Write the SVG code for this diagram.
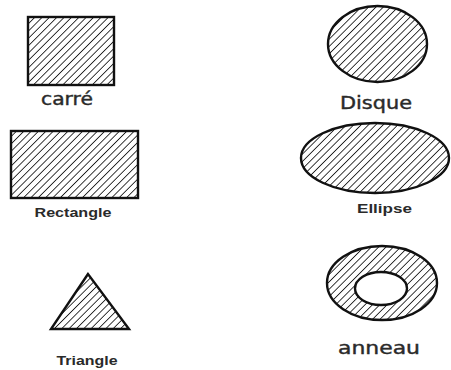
<svg xmlns="http://www.w3.org/2000/svg" width="451" height="370" viewBox="0 0 451 370">
<defs>
<pattern id="hatch" width="5.2" height="5.2" patternUnits="userSpaceOnUse" patternTransform="rotate(45)">
<rect width="5.2" height="5.2" fill="#fff"/>
<line x1="0" y1="0" x2="0" y2="5.2" stroke="#1a1a1a" stroke-width="1.7"/>
</pattern>
</defs>
<style>
.shape{fill:url(#hatch);stroke:#111;stroke-width:2.4}
.lbl1{font-family:"DejaVu Sans",sans-serif;font-size:17px;fill:#2a2a2a;stroke:#2a2a2a;stroke-width:0.4;text-anchor:middle}
.lbl2{font-family:"Liberation Sans",Arial,sans-serif;font-weight:bold;font-size:13px;fill:#2a2a2a;text-anchor:middle}
</style>
<rect width="451" height="370" fill="#fff"/>
<g id="carre">
<rect class="shape" x="28" y="17" width="86" height="68"/>
<text class="lbl1" x="67" y="105" font-size="18" textLength="52" lengthAdjust="spacingAndGlyphs">carré</text>
</g>
<g id="rectangle">
<rect class="shape" x="11" y="131" width="127" height="67"/>
<text class="lbl2" x="73" y="217" textLength="77" lengthAdjust="spacingAndGlyphs">Rectangle</text>
</g>
<g id="triangle">
<polygon class="shape" points="88,274 51,329 129,329"/>
<text class="lbl2" x="87" y="365" textLength="61" lengthAdjust="spacingAndGlyphs">Triangle</text>
</g>
<g id="disque">
<ellipse class="shape" cx="377.5" cy="44" rx="49.5" ry="38"/>
<text class="lbl1" x="376" y="109" font-size="19" textLength="72" lengthAdjust="spacingAndGlyphs">Disque</text>
</g>
<g id="ellipse">
<ellipse class="shape" cx="375" cy="158" rx="74" ry="35"/>
<text class="lbl2" x="384.5" y="213" font-size="12" textLength="55" lengthAdjust="spacingAndGlyphs">Ellipse</text>
</g>
<g id="anneau">
<path class="shape" fill-rule="evenodd" d="M327,283 a55,37 0 1,0 110,0 a55,37 0 1,0 -110,0 Z M355,288.5 a26,16.5 0 1,0 52,0 a26,16.5 0 1,0 -52,0 Z"/>
<text class="lbl1" x="379" y="354" font-size="16" textLength="82" lengthAdjust="spacingAndGlyphs">anneau</text>
</g>
</svg>
